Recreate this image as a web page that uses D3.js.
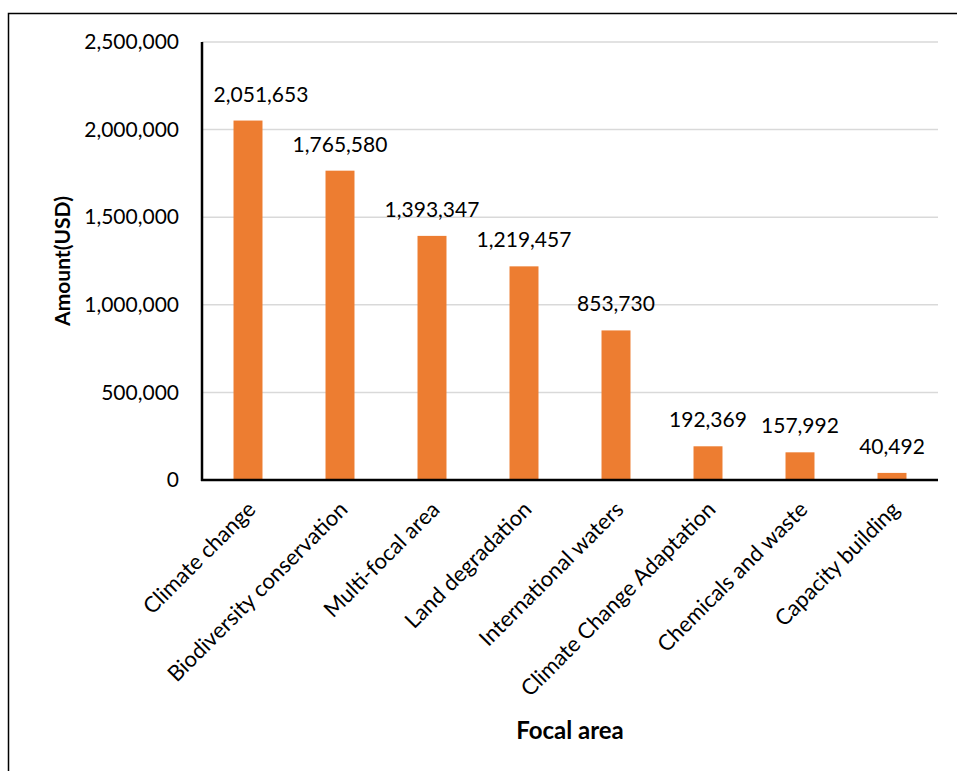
<!DOCTYPE html>
<html lang="en">
<head>
  <meta charset="UTF-8">
  <script src="https://d3js.org/d3.v7.min.js"></script>
  <title>Focal area</title>
  <style>
    body {
      margin: 0;
      padding: 0;
      background-color: #fff;
    }
    text {
      font-family: Lato, "Open Sans", sans-serif;
      fill: #000;
    }
  </style>
</head>
<body>
  <div id="chart"></div>
  <script>
    // data
    let categories = ["Climate change", "Biodiversity conservation", "Multi-focal area",
      "Land degradation", "International waters", "Climate Change Adaptation",
      "Chemicals and waste", "Capacity building"]
    let amounts = [2051653, 1765580, 1393347, 1219457, 853730, 192369, 157992, 40492]
    let yTicks = [0, 500000, 1000000, 1500000, 2000000, 2500000]

    let width = 957,
      height = 771
    let margin = { left: 202, right: 19, top: 42, bottom: 291 }

    let svg = d3.select("#chart").append("svg")
      .attr("width", width)
      .attr("height", height)

    // outer frame
    svg.append("rect")
      .attr("x", 8.5).attr("y", 13.5)
      .attr("width", 1000).attr("height", 800)
      .attr("fill", "none")
      .attr("stroke", "#000")
      .attr("stroke-width", 1.5)

    let x = d3.scaleBand()
      .domain(categories)
      .range([margin.left, width - margin.right])
      .paddingInner(0.685)
      .paddingOuter(0.3425)

    let y = d3.scaleLinear()
      .domain([0, 2500000])
      .range([height - margin.bottom, margin.top])

    let fmt = d3.format(",")

    // gridlines
    svg.append("g").selectAll("line")
      .data(yTicks.filter(d => d > 0))
      .enter().append("line")
      .attr("x1", margin.left).attr("x2", width - margin.right)
      .attr("y1", d => y(d)).attr("y2", d => y(d))
      .attr("stroke", "#d9d9d9")
      .attr("stroke-width", 1.5)

    // y axis labels
    let yAxis = svg.append("g")
      .attr("transform", `translate(${margin.left},0)`)
      .call(d3.axisLeft(y).tickValues(yTicks).tickFormat(fmt).tickSize(0).tickPadding(23))
    yAxis.select(".domain").remove()
    yAxis.selectAll("text")
      .style("font-family", "Lato, sans-serif")
      .style("font-size", "21px")
      .attr("fill", "#000")

    // bars
    svg.append("g").selectAll("rect")
      .data(amounts)
      .enter().append("rect")
      .attr("x", (d, i) => x(categories[i]))
      .attr("y", d => y(d))
      .attr("width", x.bandwidth())
      .attr("height", d => y(0) - y(d))
      .attr("fill", "#ed7d31")

    // value labels
    svg.append("g").selectAll("text")
      .data(amounts)
      .enter().append("text")
      .attr("x", (d, i) => x(categories[i]) + x.bandwidth() / 2 + (i == 0 ? 13 : 0))
      .attr("y", d => y(d) - 19)
      .attr("text-anchor", "middle")
      .style("font-size", "21px")
      .text(d => fmt(d))

    // axis lines
    svg.append("line")
      .attr("x1", margin.left).attr("x2", margin.left)
      .attr("y1", margin.top).attr("y2", y(0) + 1)
      .attr("stroke", "#000").attr("stroke-width", 2.5)
    svg.append("line")
      .attr("x1", margin.left - 1).attr("x2", width - margin.right)
      .attr("y1", y(0)).attr("y2", y(0))
      .attr("stroke", "#000").attr("stroke-width", 2.5)

    // category labels, rotated
    svg.append("g").selectAll("text")
      .data(categories)
      .enter().append("text")
      .attr("transform", d => `translate(${x(d) + x.bandwidth() / 2 - 2},${y(0) + 20}) rotate(-45)`)
      .attr("text-anchor", "end")
      .attr("dy", "0.7em")
      .style("font-size", "22px")
      .text(d => d)

    // axis titles
    svg.append("text")
      .attr("transform", `translate(70,${(margin.top + y(0)) / 2}) rotate(-90)`)
      .attr("text-anchor", "middle")
      .style("font-size", "21px")
      .style("font-weight", "bold")
      .text("Amount(USD)")

    svg.append("text")
      .attr("x", (margin.left + width - margin.right) / 2)
      .attr("y", 739)
      .attr("text-anchor", "middle")
      .style("font-size", "24px")
      .style("font-weight", "bold")
      .text("Focal area")
  </script>
</body>
</html>
